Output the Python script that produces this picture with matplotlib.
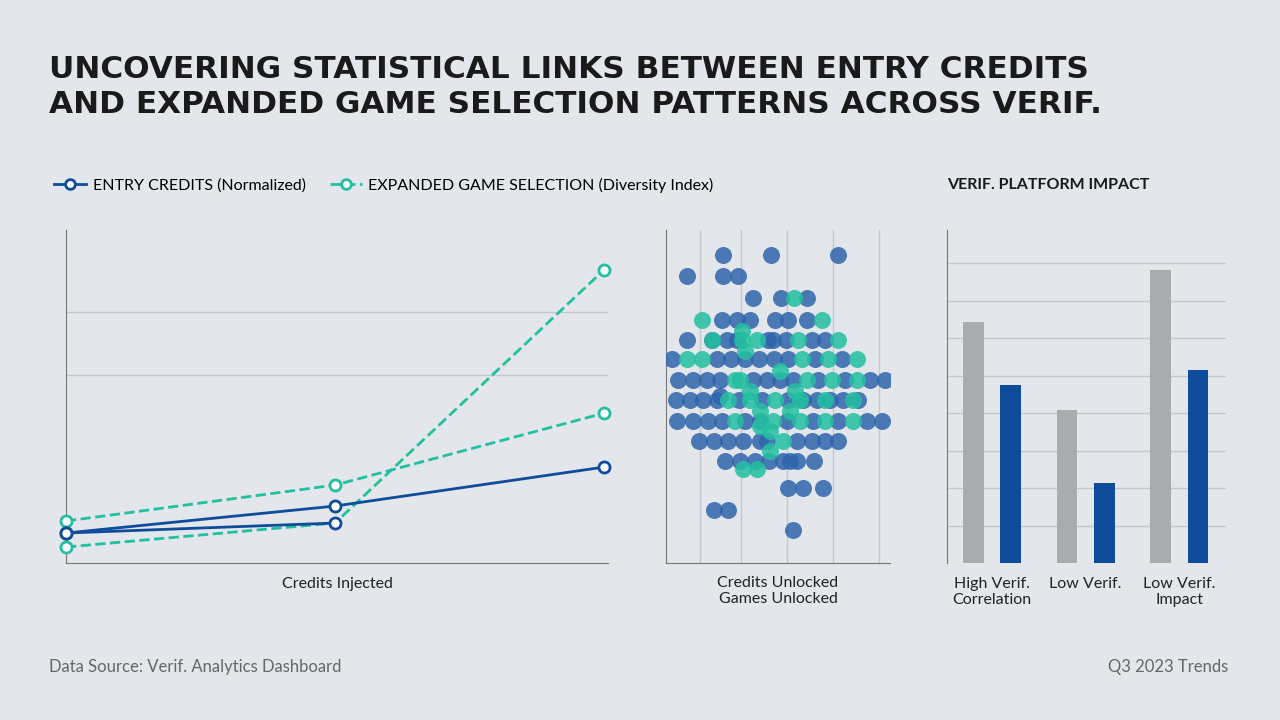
import matplotlib.pyplot as plt
import numpy as np
from matplotlib.lines import Line2D

# line chart data (index values)
line_x = [0, 1, 2]
entry_a = [9.0, 17.1, 28.8]
entry_b = [9.0, 12.0]
games_a = [12.6, 23.4, 45.0]
games_b = [4.8, 12.0, 88.0]

# scatter data, credits vs games unlocked
blue_x = [57, 105, 172, 21, 57, 72, 87, 115, 141, 56, 71, 84, 109, 122, 141, 21, 46, 61, 71, 102, 107, 120, 146, 159,
          6, 51, 65, 79, 93, 108, 122, 149, 176, 12, 27, 41, 54, 87, 101, 114, 127, 152, 179, 204, 219,
          10, 24, 37, 51, 73, 96, 122, 137, 151, 164, 177, 192, 11, 27, 42, 56, 79, 94, 121, 147, 172, 201, 216,
          33, 48, 62, 77, 94, 101, 131, 146, 159, 172, 59, 74, 89, 103, 117, 131, 148, 122, 137, 157, 48, 62, 127,
          54, 124]
blue_y = [308, 308, 308, 287, 287, 287, 265, 265, 265, 243, 243, 243, 243, 243, 243, 223, 223, 223, 223, 223, 223,
          223, 223, 223, 204, 204, 204, 204, 204, 204, 204, 204, 204, 183, 183, 183, 183, 183, 183, 183, 183, 183,
          183, 183, 183, 163, 163, 163, 163, 163, 163, 163, 163, 163, 163, 163, 163, 142, 142, 142, 142, 142, 142,
          142, 142, 142, 142, 142, 122, 122, 122, 122, 122, 122, 122, 122, 122, 122, 102, 102, 102, 102, 102, 102,
          102, 75, 75, 75, 53, 53, 33, 167, 102]
teal_x = [128, 36, 156, 46, 76, 91, 132, 172, 21, 36, 136, 162, 191, 69, 74, 141, 166, 191, 62, 84, 109, 134, 159,
          187, 69, 107, 134, 159, 187, 117, 77, 91, 76, 79, 114, 94, 124, 104, 84, 129, 94, 104]
teal_y = [265, 243, 243, 223, 223, 223, 223, 223, 204, 204, 204, 204, 204, 183, 183, 183, 183, 183, 163, 163, 163,
          163, 163, 163, 142, 142, 142, 142, 142, 122, 94, 94, 232, 212, 192, 152, 152, 132, 172, 172, 137, 112]

# bar chart data
bar_groups = ['High Verif.\nCorrelation', 'Low Verif.', 'Low Verif.\nImpact']
gray_vals = [6.43, 4.08, 7.81]
blue_vals = [4.75, 2.13, 5.15]

navy = '#0f4c9c'
teal = '#22c0a0'
gray = '#a9abad'
bg = '#e3e6ea'

plt.rcParams['font.family'] = ['Lato', 'DejaVu Sans']
fig = plt.figure(figsize=(12.8, 7.2), dpi=100)
fig.patch.set_facecolor(bg)

fig.text(49/1280, 1 - 87/720, 'UNCOVERING STATISTICAL LINKS BETWEEN ENTRY CREDITS\nAND EXPANDED GAME SELECTION PATTERNS ACROSS VERIF.',
         fontsize=22.4, fontweight='bold', family='DejaVu Sans', color='#1a1a1a', va='center', linespacing=1.3)

# line chart
ax = fig.add_axes([66/1280, 157/720, 542/1280, 333/720])
ax.set_facecolor('none')
ax.plot(line_x, entry_a, color=navy, lw=2, marker='o', ms=8, mfc='white', mec=navy, mew=2, zorder=4)
ax.plot(line_x[:2], entry_b, color=navy, lw=2, marker='o', ms=8, mfc='white', mec=navy, mew=2, zorder=4)
ax.plot(line_x, games_a, color=teal, lw=2, ls='--', marker='o', ms=8, mfc='white', mec=teal, mew=2, zorder=3)
ax.plot(line_x, games_b, color=teal, lw=2, ls='--', marker='o', ms=8, mfc='white', mec=teal, mew=2,
        markevery=[0, 2], zorder=3)
ax.set_xlim(0, 2.015)
ax.set_ylim(0, 100)
ax.set_yticks([56.5, 75.4])
ax.set_yticklabels([])
ax.set_xticks([])
ax.tick_params(length=0)
ax.grid(axis='y', color='#c4c7cb', lw=1)
for s in ['top', 'right']:
    ax.spines[s].set_visible(False)
ax.spines['left'].set_color('#777777')
ax.spines['bottom'].set_color('#777777')
ax.set_xlabel('Credits Injected', fontsize=11.5, color='#222222', labelpad=10)
for a in ax.lines:
    a.set_clip_on(False)

h1 = Line2D([], [], color=navy, lw=2, marker='o', ms=7, mfc='white', mec=navy, mew=2)
h2 = Line2D([], [], color=teal, lw=2, ls='--', marker='o', ms=7, mfc='white', mec=teal, mew=2)
fig.legend([h1, h2], ['ENTRY CREDITS (Normalized)', 'EXPANDED GAME SELECTION (Diversity Index)'],
           loc='center left', bbox_to_anchor=(40/1280, 1 - 185/720), ncol=2, frameon=False,
           fontsize=11.5, handlelength=2, columnspacing=1.5, handletextpad=0.4)

# scatter
ax2 = fig.add_axes([666/1280, 157/720, 224/1280, 333/720])
ax2.set_facecolor('none')
ax2.scatter(blue_x, blue_y, s=150, color='#2f65ac', alpha=0.85, lw=0, zorder=3)
ax2.scatter(teal_x, teal_y, s=150, color=teal, alpha=0.85, lw=0, zorder=3)
ax2.set_xlim(0, 224)
ax2.set_ylim(0, 333)
ax2.set_xticks([34, 75, 121, 167, 213])
ax2.set_xticklabels([])
ax2.set_yticks([])
ax2.tick_params(length=0)
ax2.grid(axis='x', color='#c4c7cb', lw=1)
for s in ['top', 'right']:
    ax2.spines[s].set_visible(False)
ax2.spines['left'].set_color('#777777')
ax2.spines['bottom'].set_color('#777777')
ax2.set_xlabel('Credits Unlocked\nGames Unlocked', fontsize=11.5, color='#222222', labelpad=6, linespacing=1.2)

# bars
ax3 = fig.add_axes([947/1280, 157/720, 279/1280, 333/720])
ax3.set_facecolor('none')
gx = np.arange(len(bar_groups))
ax3.bar(gx - 0.2, gray_vals, width=0.22, color=gray, zorder=3)
ax3.bar(gx + 0.2, blue_vals, width=0.22, color=navy, zorder=3)
ax3.set_xlim(-0.48, 2.5)
ax3.set_ylim(0, 8.88)
ax3.set_yticks(np.arange(1, 9))
ax3.set_yticklabels([])
ax3.set_xticks(gx)
ax3.set_xticklabels(bar_groups, fontsize=11.5, color='#222222', linespacing=1.2)
ax3.tick_params(length=0, pad=10)
ax3.grid(axis='y', color='#c4c7cb', lw=1)
for s in ['top', 'right', 'bottom']:
    ax3.spines[s].set_visible(False)
ax3.spines['left'].set_color('#777777')
fig.text(947/1280, 1 - 185/720, 'VERIF. PLATFORM IMPACT', fontsize=11.5, fontweight='bold',
         color='#1a1a1a', va='center')

fig.text(49/1280, 1 - 667/720, 'Data Source: Verif. Analytics Dashboard', fontsize=12, color='#666666', va='center')
fig.text(1228/1280, 1 - 667/720, 'Q3 2023 Trends', fontsize=12, color='#666666', va='center', ha='right')

fig.savefig('out.png', dpi=100, facecolor=bg)
